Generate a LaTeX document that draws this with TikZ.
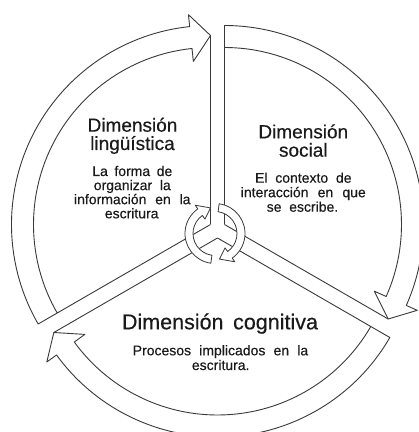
\documentclass[tikz,border=0pt]{standalone}
\usepackage{fontspec}
\setmainfont{Liberation Sans}[FakeBold=0.35]
\newfontfamily\plainfont{Liberation Sans}[FakeBold=0.35]
\usetikzlibrary{calc}
\definecolor{lineg}{HTML}{3A3A3A}
\definecolor{textg}{HTML}{1A1A1A}
\tikzset{
  seg/.style={draw=lineg, line width=0.9pt, line join=round},
  icon/.style={draw=lineg, fill=white, line width=0.8pt, line join=round},
  ttl/.style={text=textg, inner sep=0pt, anchor=base, font=\plainfont\fontsize{19}{21}\selectfont},
  bigttl/.style={text=textg, inner sep=0pt, anchor=base, font=\plainfont\fontsize{21.5}{23}\selectfont},
  bodyt/.style={text=textg, inner sep=0pt, anchor=base, font=\plainfont\fontsize{14}{15}\selectfont},
}
\def\SRo{199pt}\def\SRi{177pt}\def\SRt{189pt}\def\SRh{211pt}\def\SRl{164pt}
% #1 vertex, #2 start angle, #3 end (tip) angle
\newcommand\segarrow[3]{%
  \pgfmathsetmacro\bb{#3+6}%
  \fill[white] (#1) -- ($(#1)+(#2:\SRo)$) arc[start angle=#2, end angle=\bb, radius=\SRo]
     -- ($(#1)+(\bb:\SRh)$) -- ($(#1)+(#3:\SRt)$) -- cycle;
  \draw[seg] (#1) -- ($(#1)+(#2:\SRo)$) arc[start angle=#2, end angle=\bb, radius=\SRo]
     -- ($(#1)+(\bb:\SRh)$) -- ($(#1)+(#3:\SRt)$) -- ($(#1)+(\bb:\SRl)$)
     -- ($(#1)+(\bb:\SRi)$) arc[start angle=\bb, end angle=#2, radius=\SRi];
  \draw[seg] ($(#1)+(#3:\SRt)$) -- (#1);
}
% small circular arrow of the centre icon
\newcommand\iconarrow[3]{%
  \pgfmathsetmacro\ib{#3+25}%
  \draw[icon] ($(#1)+(#2:30pt)$) arc[start angle=#2, end angle=\ib, radius=30pt]
     -- ($(#1)+(\ib:34.5pt)$) -- ($(#1)+(#3:26pt)$) -- ($(#1)+(\ib:17.5pt)$)
     -- ($(#1)+(\ib:22pt)$) arc[start angle=\ib, end angle=#2, radius=22pt] -- cycle;
}
\begin{document}
\begin{tikzpicture}[x=1pt,y=1pt]
\useasboundingbox (0,0) rectangle (419,432);
\clip (0,0) rectangle (419,432);
\fill[white] (0,0) rectangle (419,432);
\coordinate (VL) at (210.5,207.5);
\coordinate (VS) at (224.5,207.5);
\coordinate (VC) at (217.5,194);
\coordinate (IC) at (215,198.5);
\segarrow{VL}{210}{90}
\segarrow{VS}{90}{-30}
\segarrow{VC}{-30}{-150}
\iconarrow{IC}{82}{-80}
\iconarrow{IC}{262}{100}
% linguistic
\node[ttl] (l1) at (132.5,300.3) {Dimensión};
\node[ttl] (l2) at (132.5,282) {lingüística};
\node[bodyt] (l3) at (132.3,256) {\makebox[80pt][s]{La forma de}};
\node[bodyt] (l4) at (132.3,241.9) {\makebox[77pt][s]{organizar la}};
\node[bodyt] (l5) at (132.3,227.8) {\makebox[116.5pt][s]{información en la}};
\node[bodyt] (l6) at (131.7,213.7) {escritura};
% social
\node[ttl] (s1) at (303.3,293.7) {Dimensión};
\node[ttl] (s2) at (303.3,275.3) {social};
\node[bodyt] (s3) at (303.3,249.3) {\makebox[96.5pt][s]{El contexto de}};
\node[bodyt] (s4) at (303.3,234.8) {\makebox[125pt][s]{interacción en que}};
\node[bodyt] (s5) at (302.5,220.3) {\makebox[71.5pt][s]{se escribe.}};
% cognitive
\node[bigttl] (c1) at (220,102.7) {\makebox[196pt][s]{Dimensión cognitiva}};
\node[bodyt] (c2) at (220.5,76.7) {\makebox[175.5pt][s]{Procesos implicados en la}};
\node[bodyt] (c3) at (220.7,62) {escritura.};
\end{tikzpicture}
\end{document}
